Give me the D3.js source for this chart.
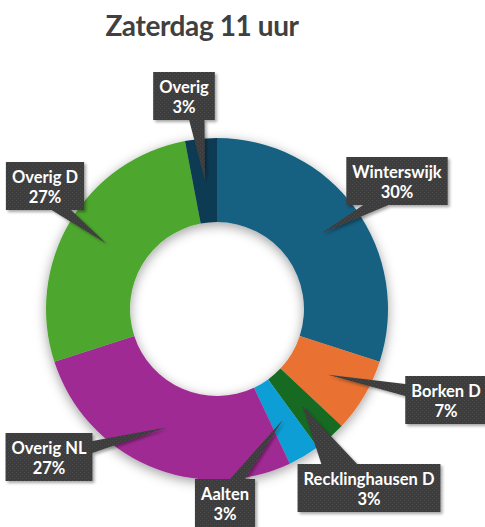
<!DOCTYPE html>
<html><head><meta charset="utf-8">
<script src="https://cdn.jsdelivr.net/npm/d3@7"></script>
<style>
html,body{margin:0;padding:0;background:#fff;}
svg{display:block;}
</style></head>
<body>
<svg id="chart" width="485" height="527"></svg>
<script>
// ---- data ----
const title = "Zaterdag 11 uur";
const categories = ["Winterswijk","Borken D","Recklinghausen D","Aalten","Overig NL","Overig D","Overig"];
const values = [30,7,3,3,27,27,3];
const percentLabels = ["30%","7%","3%","3%","27%","27%","3%"];

// ---- styles / layout ----
const colors = ["#156082","#E97132","#196B24","#0F9ED5","#A02B93","#4EA72E","#0D3A52"];
const boxCenterByCat = {
  "Winterswijk":[397,181],"Borken D":[446,400],"Recklinghausen D":[369,488],
  "Aalten":[225,503],"Overig NL":[49,457],"Overig D":[45,186],"Overig":[184,96]
};
const cx = 217, cy = 309, rOuter = 171, rInner = 87;
const fontFam = "Lato,'Open Sans',sans-serif";

const svg = d3.select("#chart");
const defs = svg.append("defs");
const f1 = defs.append("filter").attr("id","dshadow").attr("x","-20%").attr("y","-20%").attr("width","140%").attr("height","140%");
f1.append("feDropShadow").attr("dx",0).attr("dy",3).attr("stdDeviation",6).attr("flood-color","#000").attr("flood-opacity",0.38);
const f2 = defs.append("filter").attr("id","bshadow").attr("x","-20%").attr("y","-20%").attr("width","140%").attr("height","140%");
f2.append("feDropShadow").attr("dx",2).attr("dy",2).attr("stdDeviation",1.5).attr("flood-color","#000").attr("flood-opacity",0.35);
const pat = defs.append("pattern").attr("id","dots").attr("width",4).attr("height",4).attr("patternUnits","userSpaceOnUse");
pat.append("rect").attr("width",4).attr("height",4).attr("fill","#3d3d3d");
pat.append("rect").attr("x",0).attr("y",0).attr("width",1).attr("height",1).attr("fill","#4b4b4b");
pat.append("rect").attr("x",2).attr("y",2).attr("width",1).attr("height",1).attr("fill","#4b4b4b");

// title
svg.append("text").attr("x",202).attr("y",36).attr("text-anchor","middle")
  .attr("font-family",fontFam).attr("font-weight","bold").attr("font-size",28)
  .attr("letter-spacing",-0.4)
  .attr("fill","#404040").text(title);

const data = categories.map((c,i)=>({cat:c,value:values[i],label:percentLabels[i],color:colors[i]}));
const pie = d3.pie().value(d=>d.value).sort(null).startAngle(0).endAngle(2*Math.PI);
const arc = d3.arc().innerRadius(rInner).outerRadius(rOuter);
const arcs = pie(data);

const g = svg.append("g").attr("transform",`translate(${cx},${cy})`);
g.append("g").attr("filter","url(#dshadow)")
  .selectAll("path").data(arcs).join("path")
  .attr("d",arc).attr("fill",d=>d.data.color);

function calloutPath(x,y,w,h,tx,ty){
  const hc=x+w/2, vc=y+h/2, dx=tx-hc, dy=ty-vc;
  const dq = dx*h/w, dz = Math.abs(dy)-Math.abs(dq);
  if(dz>0){
    const x1 = x + w*(dx>0?7:2)/12, x2 = x + w*(dx>0?10:5)/12;
    if(dy>0) return `M${x},${y}H${x+w}V${y+h}H${x2}L${tx},${ty}L${x1},${y+h}H${x}Z`;
    return `M${x},${y}H${x1}L${tx},${ty}L${x2},${y}H${x+w}V${y+h}H${x}Z`;
  } else {
    const y1 = y + h*(dy>0?7:2)/12, y2 = y + h*(dy>0?10:5)/12;
    if(dx>0) return `M${x},${y}H${x+w}V${y1}L${tx},${ty}L${x+w},${y2}V${y+h}H${x}Z`;
    return `M${x},${y}H${x+w}V${y+h}H${x}V${y2}L${tx},${ty}L${x},${y1}Z`;
  }
}

const lab = svg.append("g");
arcs.forEach(a=>{
  const [tx0,ty0] = arc.centroid(a);
  const tx = tx0+cx, ty = ty0+cy;
  const [bx,by] = boxCenterByCat[a.data.cat];
  const gg = lab.append("g");
  const p = gg.append("path").attr("fill","url(#dots)").attr("filter","url(#bshadow)");
  const t1 = gg.append("text").attr("x",bx).attr("y",by-3).attr("text-anchor","middle")
    .attr("font-family",fontFam).attr("font-weight","bold").attr("font-size",16.5).attr("fill","#fff").text(a.data.cat);
  const t2 = gg.append("text").attr("x",bx).attr("y",by+17).attr("text-anchor","middle")
    .attr("font-family",fontFam).attr("font-weight","bold").attr("font-size",16.5).attr("fill","#fff").text(a.data.label);
  const w = Math.max(t1.node().getComputedTextLength(), t2.node().getComputedTextLength()) + 12;
  const h = 48;
  p.attr("d", calloutPath(bx-w/2, by-h/2, w, h, tx, ty));
});
</script>
</body></html>
